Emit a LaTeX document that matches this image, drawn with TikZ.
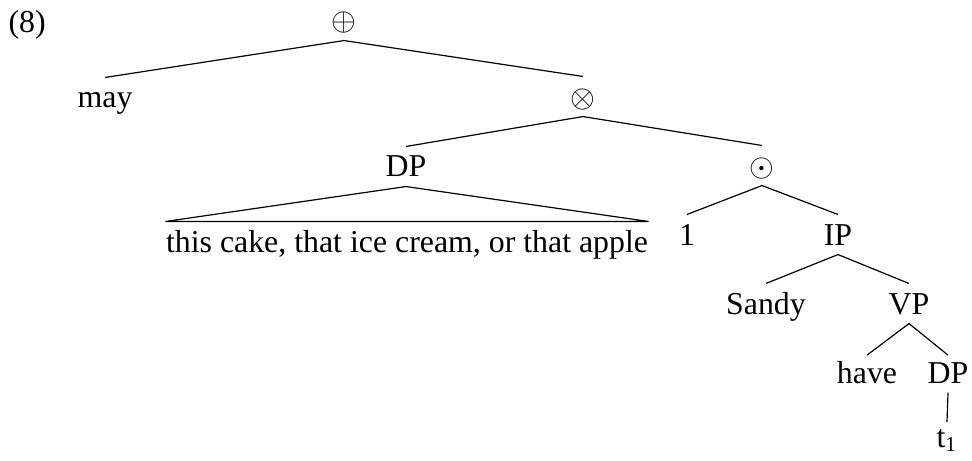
\documentclass[tikz,border=0pt]{standalone}
\usepackage{fontspec}
\setmainfont{Liberation Serif}
\tikzset{
  lab/.style={inner sep=0pt, anchor=base, text height=11.3pt, text depth=3.4pt,
              font=\fontsize{12}{14}\selectfont},
  edge/.style={line width=0.45pt}
}
\begin{document}
\begin{tikzpicture}[x=0.3768pt, y=-0.3768pt]
\useasboundingbox (0,0) rectangle (972,460);
% nodes
\node[lab, anchor=base west] (ex) at (8,33) {(8)};
\node[lab] (top) at (344,31) {$\oplus$};
\node[lab] (may) at (105,108) {may};
\node[lab] (times) at (583,107) {$\otimes$};
\node[lab] (dpa) at (406,177) {DP};
\node[lab] (odot) at (762,176) {$\odot$};
\node[lab] (txt) at (407,252) {this cake, that ice cream, or that apple};
\node[lab] (one) at (687,245) {1};
\node[lab] (ip) at (838,245) {IP};
\node[lab] (sandy) at (766,314) {Sandy};
\node[lab] (vp) at (909,314) {VP};
\node[lab] (have) at (867,383) {have};
\node[lab] (dpb) at (948,383) {DP};
\node[lab] (tr) at (947,447) {t\textsubscript{1}};
% edges
\draw[edge] (may.north) -- (top.south) -- (times.north);
\draw[edge] (dpa.north) -- (times.south) -- (odot.north);
\draw[edge] (dpa.south) -- (txt.north west) -- (txt.north east) -- cycle;
\draw[edge] (one.north) -- (odot.south) -- (ip.north);
\draw[edge] (sandy.north) -- (ip.south) -- (vp.north);
\draw[edge] ([yshift=-1pt]have.north) -- (vp.south) -- ([yshift=-1pt]dpb.north);
\draw[edge] (dpb.south) -- ([yshift=-2pt]tr.north);
\end{tikzpicture}
\end{document}
